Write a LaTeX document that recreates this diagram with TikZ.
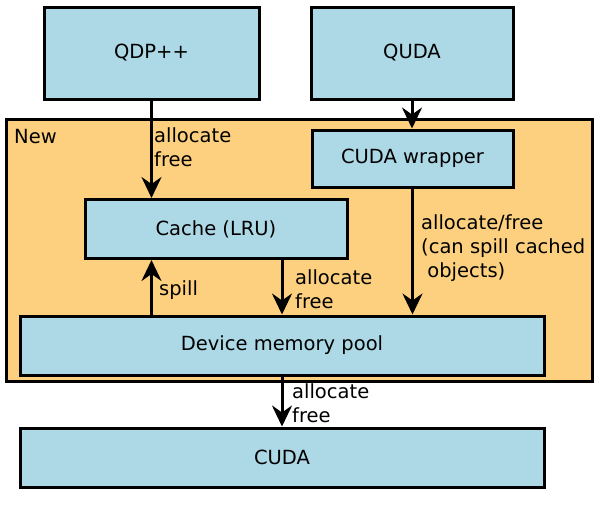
\documentclass[tikz,border=0pt]{standalone}
\usepackage{fontspec}
\setmainfont{DejaVu Sans}
\usepackage{xcolor}
\usepackage{tikz}
\usetikzlibrary{shapes,arrows,positioning,calc,arrows.meta}
\definecolor{boxblue}{HTML}{ADD8E6}
\definecolor{neworange}{HTML}{FDD07F}

\begin{document}
\begin{tikzpicture}[x=1pt,y=-1pt,
    font=\fontsize{19.5}{24}\selectfont,
    block/.style={draw, line width=3pt, fill=boxblue, inner sep=0pt},
    flow/.style={-{Stealth[length=21pt,width=20pt,inset=7pt]}, line width=3pt},
    lbl/.style={anchor=north west, align=left, inner sep=0pt}]
    \useasboundingbox (0,0) rectangle (600,507);
    % New layer
    \draw[line width=3pt, fill=neworange] (6,119) rectangle (592,381);
    \node[lbl] (newlbl) at (14,129) {New};
    % Blocks
    \node[block, minimum width=215pt, minimum height=92pt] (qdp) at (151.5,53) {QDP++};
    \node[block, minimum width=202pt, minimum height=92pt] (quda) at (412,53) {QUDA};
    \node[block, minimum width=201pt, minimum height=57pt] (wrapper) at (412.5,158.5) {CUDA wrapper};
    \node[block, minimum width=262pt, minimum height=59pt] (cache) at (216,229) {Cache (LRU)};
    \node[block, minimum width=524pt, minimum height=59pt] (pool) at (282,345.5) {Device memory pool};
    \node[block, minimum width=524pt, minimum height=59pt] (cuda) at (282,457.5) {CUDA};
    % Arrows
    \draw[flow] (qdp.south) -- (qdp.south |- cache.north);
    \node[lbl] (qdplbl) at (154,127) {allocate\\free};
    \draw[flow] (quda.south) -- (quda.south |- wrapper.north);
    \draw[flow] (wrapper.south) -- (wrapper.south |- pool.north);
    \node[lbl] (wrapperlbl) at (421,214) {allocate/free\\(can spill cached\\\ objects)};
    \draw[flow] (cache.south -| pool) -- (pool.north);
    \node[lbl] (cachelbl) at (295,269) {allocate\\free};
    \draw[flow] (pool.north -| qdp) -- (cache.south -| qdp);
    \node[lbl] (spilllbl) at (159,280) {spill};
    \draw[flow] (pool.south) -- (cuda.north);
    \node[lbl] (poollbl) at (292,383) {allocate\\free};
\end{tikzpicture}
\end{document}
